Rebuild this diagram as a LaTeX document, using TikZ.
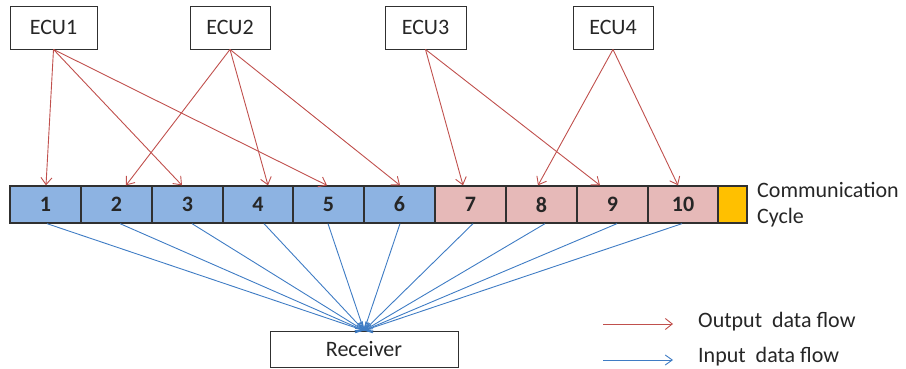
\documentclass[tikz,border=0pt]{standalone}
\usepackage{fontspec}
\setmainfont{Carlito}
\usetikzlibrary{arrows.meta}
\definecolor{outred}{HTML}{C0504D}
\definecolor{inblue}{HTML}{3F7CC4}
\definecolor{slotblue}{HTML}{8DB3E2}
\definecolor{slotpink}{HTML}{E6B9B8}
\definecolor{slotgold}{HTML}{FFC000}
\definecolor{ink}{HTML}{262626}
\definecolor{frame}{HTML}{303030}
\tikzset{
  ecubox/.style={draw=frame, line width=0.9pt, fill=white, inner sep=0pt,
    minimum height=43pt, font=\fontsize{22}{26}\selectfont, text=ink},
  slot/.style={draw=frame, line width=1.3pt, inner sep=0pt, minimum height=37pt,
    font=\bfseries\fontsize{22}{26}\selectfont, text=ink},
  bluesl/.style={slot, fill=slotblue},
  pinksl/.style={slot, fill=slotpink},
  outflow/.style={draw=outred, line width=0.9pt, -{Straight Barb[length=7pt,width=11pt,line width=0.9pt]}},
  inflow/.style={draw=inblue, line width=0.9pt, -{Straight Barb[length=7pt,width=10pt,line width=0.9pt]}},
  lbl/.style={inner sep=0pt, anchor=west, font=\fontsize{22}{26}\selectfont, text=ink}
}
\begin{document}
\begin{tikzpicture}[x=1pt,y=-1pt]
\useasboundingbox (0,0) rectangle (906,369);

% transmitting units
\node[ecubox, minimum width=87pt] (e1) at (53.5,27.5) {ECU1};
\node[ecubox, minimum width=80pt] (e2) at (230,27.5) {ECU2};
\node[ecubox, minimum width=81pt] (e3) at (425.5,27.5) {ECU3};
\node[ecubox, minimum width=80pt] (e4) at (613,27.5) {ECU4};

% slots of the communication cycle
\node[bluesl, minimum width=71pt] (c1) at (45.5,204.5) {1};
\node[bluesl, minimum width=71pt] (c2) at (116.5,204.5) {2};
\node[bluesl, minimum width=71pt] (c3) at (187.5,204.5) {3};
\node[bluesl, minimum width=70pt] (c4) at (258,204.5) {4};
\node[bluesl, minimum width=71pt] (c5) at (328.5,204.5) {5};
\node[bluesl, minimum width=71pt] (c6) at (399.5,204.5) {6};
\node[pinksl, minimum width=71pt] (c7) at (470.5,204.5) {7};
\node[pinksl, minimum width=71pt] (c8) at (541.5,204.5) {8};
\node[pinksl, minimum width=71pt] (c9) at (612.5,204.5) {9};
\node[pinksl, minimum width=70pt] (c10) at (683,204.5) {10};
\node[slot, fill=slotgold, minimum width=29pt] (c11) at (732.5,204.5) {};

\node[lbl] (cc1) at (757,190) {Communication};
\node[lbl] (cc2) at (757,218) {Cycle};

% receiving unit
\node[ecubox, minimum width=188pt, minimum height=36pt] (rx) at (364,349) {Receiver};

% output data flow
\draw[outflow] (e1.south) -- ([xshift=0.5pt]c1.north);
\draw[outflow] (e1.south) -- ([xshift=-5.5pt]c3.north);
\draw[outflow] (e1.south) -- ([xshift=-1.5pt]c5.north);
\draw[outflow] (e2.south) -- ([xshift=9.5pt]c2.north);
\draw[outflow] (e2.south) -- ([xshift=10pt]c4.north);
\draw[outflow] (e2.south) -- ([xshift=0.5pt]c6.north);
\draw[outflow] (e3.south) -- ([xshift=-7.5pt]c7.north);
\draw[outflow] (e3.south) -- ([xshift=-12.5pt]c9.north);
\draw[outflow] (e4.south) -- ([xshift=-3.5pt]c8.north);
\draw[outflow] (e4.south) -- ([xshift=-5pt]c10.north);

% input data flow
\draw[inflow] ([xshift=1.5pt]c1.south) -- (rx.north);
\draw[inflow] ([xshift=3.5pt]c2.south) -- (rx.north);
\draw[inflow] ([xshift=4.5pt]c3.south) -- (rx.north);
\draw[inflow] ([xshift=6pt]c4.south) -- (rx.north);
\draw[inflow] ([xshift=-0.5pt]c5.south) -- (rx.north);
\draw[inflow] ([xshift=0.5pt]c6.south) -- (rx.north);
\draw[inflow] ([xshift=2.5pt]c7.south) -- (rx.north);
\draw[inflow] ([xshift=3.5pt]c8.south) -- (rx.north);
\draw[inflow] ([xshift=4.5pt]c9.south) -- (rx.north);
\draw[inflow] ([xshift=-1pt]c10.south) -- (rx.north);

% legend
\coordinate (ro1) at (603,324);
\coordinate (ro2) at (673,324);
\coordinate (bi1) at (603,360);
\coordinate (bi2) at (673,360);
\draw[outflow] (ro1) -- (ro2);
\draw[inflow] (bi1) -- (bi2);
\node[lbl] (lo) at (698,322) {Output\ \ data flow};
\node[lbl] (li) at (698,357) {Input\ \ data flow};
\end{tikzpicture}
\end{document}
